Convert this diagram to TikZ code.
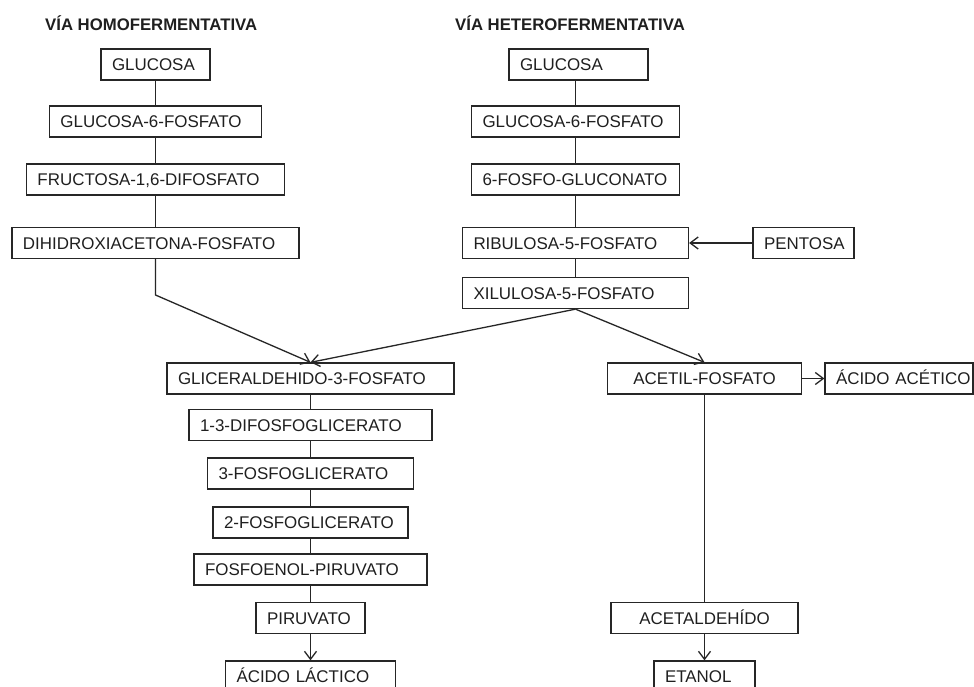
\documentclass[tikz,border=0pt]{standalone}
\usepackage{fontspec}
\setmainfont{Liberation Sans}
\usetikzlibrary{arrows.meta}
\begin{document}
\begin{tikzpicture}[x=1bp,y=-1bp,
  every node/.style={text=black!88},
  bx/.style={draw=black!85, line width=1.3bp, minimum height=31bp, inner xsep=11bp, inner ysep=0pt,
     text height=12.2pt, text depth=0pt, align=left, font=\fontsize{17}{20}\selectfont},
  cbx/.style={bx, align=center},
  ttl/.style={anchor=base west, inner sep=0pt, font=\fontsize{16.8}{20}\selectfont\bfseries},
  ln/.style={draw=black!85, line width=1.3bp},
  arr/.style={ln, -{Straight Barb[length=8bp,width=12bp,line width=1.3bp]}}
]
\useasboundingbox[fill=white] (0,0) rectangle (974,687);

\node[ttl] (t1) at (45,31) {VÍA HOMOFERMENTATIVA};
\node[ttl] (t2) at (455,31) {VÍA HETEROFERMENTATIVA};

% left column
\node[bx, text width=87bp]  (a1) at (155.5,64.5) {GLUCOSA};
\node[bx, text width=190bp] (a2) at (155.5,121.5) {GLUCOSA-6-FOSFATO};
\node[bx, text width=236bp] (a3) at (155.5,179.5) {FRUCTOSA-1,6-DIFOSFATO};
\node[bx, text width=265bp] (a4) at (155.5,243) {DIHIDROXIACETONA-FOSFATO};

% right column
\node[bx, text width=117bp] (b1) at (578.5,64.5) {GLUCOSA};
\node[bx, text width=186bp] (b2) at (575.5,121.5) {GLUCOSA-6-FOSFATO};
\node[bx, text width=186bp] (b3) at (575.5,179.5) {6-FOSFO-GLUCONATO};
\node[bx, text width=204bp] (b4) at (575.5,243) {RIBULOSA-5-FOSFATO};
\node[bx, text width=204bp] (b5) at (575.5,293) {XILULOSA-5-FOSFATO};
\node[bx, text width=79bp]  (pen) at (803.5,243) {PENTOSA};

% lower left
\node[bx, text width=265bp] (c1) at (310.5,378.5) {GLICERALDEHIDO-3-FOSFATO};
\node[bx, text width=221bp] (c2) at (310.5,425) {1-3-DIFOSFOGLICERATO};
\node[bx, text width=184bp] (c3) at (310.5,473.5) {3-FOSFOGLICERATO};
\node[bx, text width=173bp] (c4) at (310.5,522.5) {2-FOSFOGLICERATO};
\node[bx, text width=211bp] (c5) at (310.5,569.5) {FOSFOENOL-PIRUVATO};
\node[bx, text width=87bp]  (c6) at (310.5,618) {PIRUVATO};
\node[bx, text width=148bp] (c7) at (310.5,676.5) {ÁCIDO~LÁCTICO};

% lower right
\node[cbx, text width=172bp] (d1) at (704.5,378.5) {ACETIL-FOSFATO};
\node[bx, text width=126bp]  (d2) at (899,378.5) {ÁCIDO~ACÉTICO};
\node[cbx, text width=165bp] (d3) at (704.5,618) {ACETALDEHÍDO};
\node[bx, text width=79bp]   (d4) at (704.5,676.5) {ETANOL};

% connectors left
\draw[ln] (a2.north |- a1.south) -- (a2.north);
\draw[ln] (a2.south) -- (a3.north);
\draw[ln] (a3.south) -- (a4.north);
\coordinate (k) at (155.5,295);
\draw[arr] (a4.south) -- (k) -- (c1.north);

% connectors right
\draw[ln] (b2.north |- b1.south) -- (b2.north);
\draw[ln] (b2.south) -- (b3.north);
\draw[ln] (b3.south) -- (b4.north);
\draw[ln] (b4.south) -- (b5.north);
\draw[arr] (pen.west) -- (b4.east);
\draw[arr] (b5.south) -- (c1.north);
\draw[arr] (b5.south) -- (d1.north);

% lower chains
\draw[ln] (c1.south) -- (c2.north);
\draw[ln] (c2.south) -- (c3.north);
\draw[ln] (c3.south) -- (c4.north);
\draw[ln] (c4.south) -- (c5.north);
\draw[ln] (c5.south) -- (c6.north);
\draw[arr] (c6.south) -- (c7.north);
\draw[arr] (d1.east) -- (d2.west);
\draw[ln] (d1.south) -- (d3.north);
\draw[arr] (d3.south) -- (d4.north);
\end{tikzpicture}
\end{document}
